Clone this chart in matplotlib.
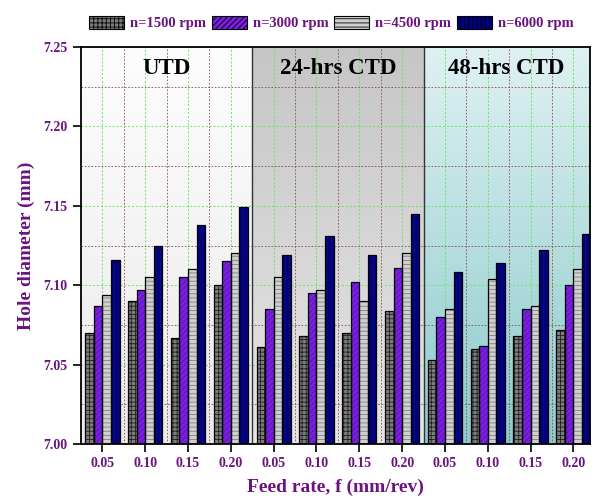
import numpy as np
import matplotlib.pyplot as plt
from matplotlib.patches import Patch
from matplotlib.colors import LinearSegmentedColormap
from matplotlib.ticker import MultipleLocator, FixedLocator, FormatStrFormatter

plt.rcParams['font.family'] = ['Liberation Serif', 'DejaVu Serif']
plt.rcParams['font.weight'] = 'bold'
plt.rcParams['hatch.linewidth'] = 0.6

#---Data---
feed = ["0.05", "0.10", "0.15", "0.20"]
conditions = ["UTD", "24-hrs CTD", "48-hrs CTD"]
speeds = ["n=1500 rpm", "n=3000 rpm", "n=4500 rpm", "n=6000 rpm"]

# hole diameter (mm), 4 feeds per condition, conditions in order UTD, 24h, 48h
n1500 = [7.070, 7.090, 7.067, 7.100,  7.061, 7.068, 7.070, 7.084,  7.053, 7.060, 7.068, 7.072]
n3000 = [7.087, 7.097, 7.105, 7.115,  7.085, 7.095, 7.102, 7.111,  7.080, 7.062, 7.085, 7.100]
n4500 = [7.094, 7.105, 7.110, 7.120,  7.105, 7.097, 7.090, 7.120,  7.085, 7.104, 7.087, 7.110]
n6000 = [7.116, 7.125, 7.138, 7.149,  7.119, 7.131, 7.119, 7.145,  7.108, 7.114, 7.122, 7.132]

#---Styles---
faces = ["#7c7c7c", "#7a1fe0", "#cfcfcf", "#000080"]
hatch_cols = ["#1e1e1e", "#5a12b0", "#808080", "#10106a"]
hatches = ["++++", "//////", "----", "||||"]
purple = "#6b1480"
bg = [("#fdfdfd", "#eaeaea"), ("#c6c6c6", "#e6e6e6"), ("#dff1f2", "#8ccacc")]

fig = plt.figure(figsize=(5.97, 5.0), dpi=100)
ax = fig.add_axes([0.1357, 0.112, 0.852, 0.794])

x = np.arange(12)
w = 0.2
series = [n1500, n3000, n4500, n6000]
for k, vals in enumerate(series):
    pos = x + (k - 1.5) * w
    heights = np.array(vals) - 7.0
    ax.bar(pos, heights, w, bottom=7.0, color=faces[k], edgecolor=hatch_cols[k],
           hatch=hatches[k], linewidth=0, zorder=3)
    ax.bar(pos, heights, w, bottom=7.0, fill=False, edgecolor="black",
           linewidth=0.9, zorder=4)

xmin, xmax = -0.5, 11.38

# panel backgrounds
edges = [xmin, 3.5, 7.5, xmax]
grad = np.linspace(0, 1, 256).reshape(-1, 1)
for i in range(3):
    cmap = LinearSegmentedColormap.from_list("p%d" % i, [bg[i][1], bg[i][0]])
    ax.imshow(grad, extent=[edges[i], edges[i + 1], 7.0, 7.25], origin="lower",
              aspect="auto", cmap=cmap, zorder=0)
    ax.text((edges[i] + edges[i + 1]) / 2, 7.243, conditions[i], ha="center",
            va="top", fontsize=16.5, fontweight="bold", color="black", zorder=5)
for e in edges[1:3]:
    ax.axvline(e, color="#333333", linewidth=1.0, zorder=5)
ax.set_xlim(xmin, xmax)
ax.set_ylim(7.0, 7.25)

# grids
ax.xaxis.set_major_locator(FixedLocator(x))
ax.xaxis.set_minor_locator(FixedLocator(x[:-1] + 0.5))
ax.yaxis.set_major_locator(MultipleLocator(0.05))
ax.yaxis.set_minor_locator(MultipleLocator(0.025))
ax.yaxis.set_major_formatter(FormatStrFormatter("%.2f"))
ax.grid(which="major", color="#6ee06e", linestyle=(0, (2, 2)), linewidth=0.7, zorder=1)
ax.grid(which="minor", color="#8b4a4a", linestyle=(0, (2, 2)), linewidth=0.6, zorder=1)
ax.set_axisbelow(True)

ax.set_xticklabels(feed * 3)
ax.tick_params(axis="both", which="major", direction="out", length=6, width=1.2,
               labelsize=10, labelcolor=purple)
ax.tick_params(axis="both", which="minor", length=0)
for sp in ax.spines.values():
    sp.set_linewidth(1.3)
    sp.set_zorder(6)

ax.set_ylabel("Hole diameter (mm)", fontsize=14, fontweight="bold", color=purple, labelpad=6)
ax.set_xlabel("Feed rate, f (mm/rev)", fontsize=14, fontweight="bold", color=purple, labelpad=6)

handles = [Patch(facecolor=faces[k], edgecolor="black", hatch=hatches[k], linewidth=0.8)
           for k in range(4)]
leg = fig.legend(handles, speeds, loc="upper center", bbox_to_anchor=(0.555, 0.995),
                 ncol=4, frameon=False, fontsize=10.5, handlelength=2.4, handleheight=1.0,
                 columnspacing=0.4, handletextpad=0.4)
for t in leg.get_texts():
    t.set_color(purple)
    t.set_fontweight("bold")

fig.savefig("out.png", dpi=100)
